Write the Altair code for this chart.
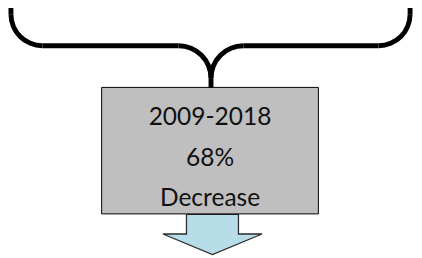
import math
import altair as alt
import pandas as pd

# ---- diagram content ----
box_lines = ["2009-2018", "68%", "Decrease"]
box_line_baseline = [125, 167, 207]

# box (pixel-like diagram coordinates)
box_x = [103.5]
box_x2 = [324.5]
box_y = [86.5]
box_y2 = [215.5]

# down arrow outline (closed polygon)
arrow_x = [190, 243, 243, 267, 216.5, 166, 190, 190]
arrow_y = [216, 216, 236, 236, 257, 236, 236, 216]

# brace straight segments
seg_x = [11, 43, 215, 248, 418]
seg_y = [-10, 44, 77, 44, 12]
seg_x2 = [11, 182, 215, 386, 418]
seg_y2 = [12, 44, 87, 44, -10]

# brace rounded corners (centre, radius, start/end angle)
arc_cx = [43, 182, 248, 386]
arc_cy = [12, 77, 77, 12]
arc_r = [32, 33, 33, 32]
arc_t0 = [math.pi, 0.0, 1.5 * math.pi, 0.5 * math.pi]
arc_t1 = [1.5 * math.pi, 0.5 * math.pi, 2.0 * math.pi, math.pi]

W, H = 414, 250
xs = alt.Scale(domain=[8, 8 + W], range=[0, W])
ys = alt.Scale(domain=[8, 8 + H], range=[0, H])

arrow_df = pd.DataFrame({"x": arrow_x, "y": arrow_y, "o": list(range(len(arrow_x)))})
arrow = alt.Chart(arrow_df).mark_line(
    fill="#b7dde8", stroke="#2b2b2b", strokeWidth=1.3, interpolate="linear"
).encode(
    x=alt.X("x:Q", scale=xs, axis=None),
    y=alt.Y("y:Q", scale=ys, axis=None),
    order="o:Q",
)

seg_df = pd.DataFrame({"x": seg_x, "y": seg_y, "x2": seg_x2, "y2": seg_y2})
segs = alt.Chart(seg_df).mark_rule(color="black", strokeWidth=5, strokeCap="butt").encode(
    x=alt.X("x:Q", scale=xs, axis=None),
    y=alt.Y("y:Q", scale=ys, axis=None),
    x2="x2:Q",
    y2="y2:Q",
)

arc_df = pd.DataFrame({
    "cx": arc_cx, "cy": arc_cy,
    "ro": [r + 2.5 for r in arc_r], "ri": [r - 2.5 for r in arc_r],
    "t0": arc_t0, "t1": arc_t1,
})
arcs = alt.Chart(arc_df).mark_arc(color="black").encode(
    x=alt.X("cx:Q", scale=xs, axis=None),
    y=alt.Y("cy:Q", scale=ys, axis=None),
    theta=alt.Theta("t0:Q", scale=None),
    theta2="t1:Q",
    radius=alt.Radius("ro:Q", scale=None),
    radius2="ri:Q",
)

box_df = pd.DataFrame({"x": box_x, "x2": box_x2, "y": box_y, "y2": box_y2})
box = alt.Chart(box_df).mark_rect(fill="#bfbfbf", stroke="#000000", strokeWidth=1).encode(
    x=alt.X("x:Q", scale=xs, axis=None),
    x2="x2:Q",
    y=alt.Y("y:Q", scale=ys, axis=None),
    y2="y2:Q",
)

text_df = pd.DataFrame({
    "label": box_lines,
    "y": box_line_baseline,
    "x": [(box_x[0] + box_x2[0]) / 2] * len(box_lines),
})
texts = alt.Chart(text_df).mark_text(
    font="Lato", fontSize=25, color="#111111", align="center", baseline="alphabetic"
).encode(
    x=alt.X("x:Q", scale=xs, axis=None),
    y=alt.Y("y:Q", scale=ys, axis=None),
    text="label:N",
)

chart = alt.layer(arrow, segs, arcs, box, texts).properties(
    width=W, height=H, autosize=alt.AutoSizeParams(type="none"), padding=0
).configure(background="white", view=alt.ViewConfig(stroke=None))

chart.save("out.html", embed_options={"renderer": "svg", "actions": False})
